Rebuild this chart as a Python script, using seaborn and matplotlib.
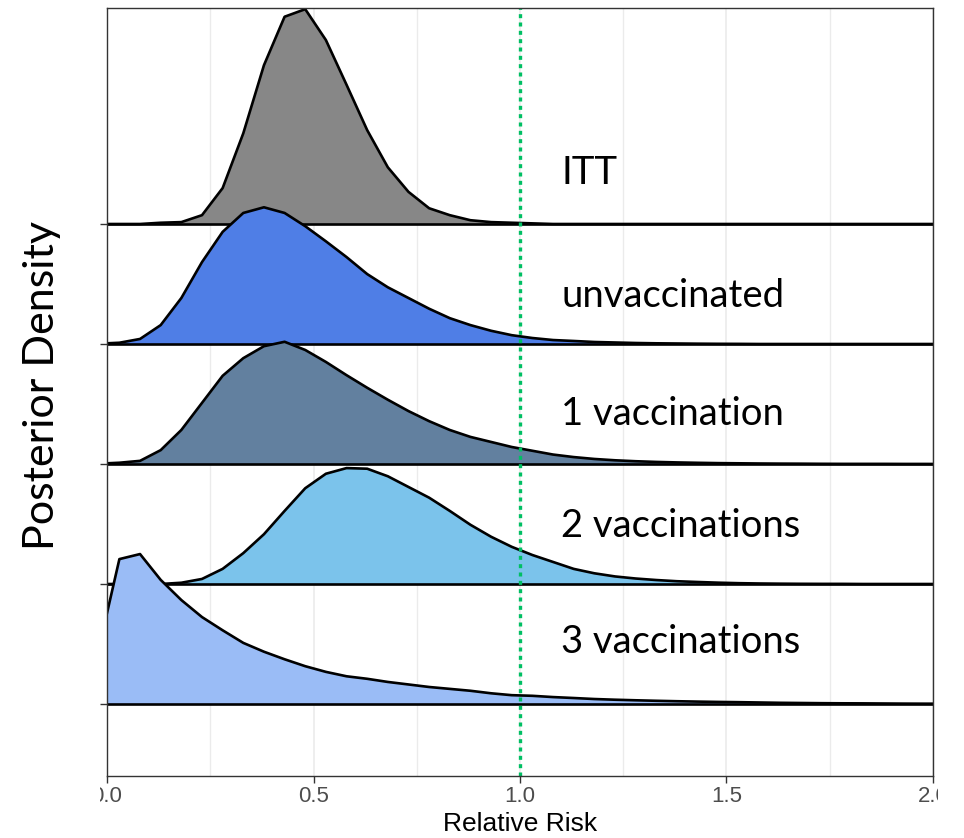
import numpy as np
import pandas as pd
import matplotlib
matplotlib.use("Agg")
import matplotlib.pyplot as plt
import seaborn as sns
from matplotlib.transforms import Bbox

# Posterior density of the relative risk, evaluated on a 0.05 grid
rr_grid = [-0.02, 0.03, 0.08, 0.13, 0.18, 0.23, 0.28, 0.33, 0.38, 0.43,
           0.48, 0.53, 0.58, 0.63, 0.68, 0.73, 0.78, 0.83, 0.88, 0.93,
           0.98, 1.03, 1.08, 1.13, 1.18, 1.23, 1.28, 1.33, 1.38, 1.43,
           1.48, 1.53, 1.58, 1.63, 1.68, 1.73, 1.78, 1.83, 1.88, 1.93,
           1.98, 2.03]

dens_itt = [0.0, 0.0, 0.0, 0.02, 0.03, 0.14, 0.57, 1.44, 2.52, 3.29,
            3.41, 2.92, 2.21, 1.49, 0.90, 0.51, 0.25, 0.14, 0.06, 0.03,
            0.02, 0.01, 0.0, 0.0, 0.0, 0.0, 0.0, 0.0, 0.0, 0.0,
            0.0, 0.0, 0.0, 0.0, 0.0, 0.0, 0.0, 0.0, 0.0, 0.0,
            0.0, 0.0]

dens_unvacc = [0.005, 0.02, 0.08, 0.30, 0.73, 1.30, 1.78, 2.08, 2.17, 2.08,
               1.87, 1.63, 1.38, 1.11, 0.90, 0.73, 0.56, 0.41, 0.30, 0.21,
               0.14, 0.095, 0.063, 0.048, 0.032, 0.024, 0.016, 0.011, 0.008, 0.005,
               0.003, 0.002, 0.0, 0.0, 0.0, 0.0, 0.0, 0.0, 0.0, 0.0,
               0.0, 0.0]

dens_1vacc = [0.005, 0.02, 0.05, 0.22, 0.54, 0.97, 1.40, 1.68, 1.87, 1.94,
              1.81, 1.62, 1.41, 1.21, 1.02, 0.84, 0.68, 0.54, 0.43, 0.35,
              0.27, 0.21, 0.15, 0.11, 0.08, 0.059, 0.044, 0.033, 0.025, 0.019,
              0.014, 0.011, 0.008, 0.006, 0.005, 0.003, 0.002, 0.002, 0.002, 0.001,
              0.001, 0.0]

dens_2vacc = [0.0, 0.0, 0.0, 0.0, 0.02, 0.08, 0.24, 0.49, 0.79, 1.16,
              1.52, 1.75, 1.84, 1.83, 1.71, 1.54, 1.37, 1.16, 0.94, 0.75,
              0.59, 0.46, 0.35, 0.24, 0.17, 0.12, 0.087, 0.063, 0.044, 0.032,
              0.021, 0.013, 0.008, 0.005, 0.003, 0.002, 0.002, 0.0, 0.0, 0.0,
              0.0, 0.0]

dens_3vacc = [0.87, 2.30, 2.38, 1.97, 1.65, 1.38, 1.17, 0.97, 0.83, 0.71,
              0.60, 0.51, 0.44, 0.40, 0.35, 0.31, 0.27, 0.24, 0.21, 0.17,
              0.14, 0.13, 0.11, 0.095, 0.079, 0.068, 0.059, 0.051, 0.044, 0.038,
              0.033, 0.029, 0.024, 0.019, 0.016, 0.013, 0.011, 0.010, 0.008, 0.006,
              0.005, 0.005]

groups = ["ITT", "unvaccinated", "1 vaccination", "2 vaccinations", "3 vaccinations"]
densities = [dens_itt, dens_unvacc, dens_1vacc, dens_2vacc, dens_3vacc]

x_ticks = [0.0, 0.5, 1.0, 1.5, 2.0]
x_tick_labels = ["0.0", "0.5", "1.0", "1.5", "2.0"]
reference_rr = 1.0

# styling
fills = ["#878787", "#4F7EE6", "#62809F", "#7BC3EB", "#9ABCF6"]
row_base = [4, 3, 2, 1, 0]            # ridge baselines, top to bottom
label_y = [4.333, 3.305, 2.325, 1.39, 0.425]
ridge_scale = 0.525                   # ridge height per unit density

long = pd.concat(
    [pd.DataFrame({"group": g, "rr": rr_grid, "density": d, "base": b})
     for g, d, b in zip(groups, densities, row_base)],
    ignore_index=True)
long["ridge"] = long["base"] + long["density"] * ridge_scale

sns.set_theme(style="white")
plt.rcParams["font.family"] = ["Liberation Sans", "DejaVu Sans"]

fig = plt.figure(figsize=(9.64, 8.38), dpi=100)
ax = fig.add_axes([107 / 964, 1 - 776 / 838, (933 - 107) / 964, (776 - 8) / 838])

z = 2
for g, col in zip(groups, fills):
    sub = long[long["group"] == g]
    b = sub["base"].iloc[0]
    ax.fill_between(sub["rr"], b, sub["ridge"], color=col, lw=0, zorder=z)
    ax.plot([-0.05, 2.05], [b, b], color="black", lw=1.9, zorder=z + 0.1,
            solid_capstyle="butt")
    sns.lineplot(data=sub, x="rr", y="ridge", color="black", lw=1.9,
                 estimator=None, sort=False, ax=ax, zorder=z + 0.2)
    z += 1

ax.axvline(reference_rr, color="#00BF63", lw=2.4, ls=(0, (1.2, 1.3)), zorder=30)

for g, ly in zip(groups, label_y):
    ax.text(1.10, ly, g, fontsize=27.5, family=["Lato", "DejaVu Sans"],
            ha="left", va="baseline", color="black", zorder=40)

ax.set_xlim(0, 2)
ax.set_ylim(-0.6, 5.8)
ax.set_xticks(x_ticks)
ax.set_xticklabels(x_tick_labels)
ax.set_xticks([0.25, 0.75, 1.25, 1.75], minor=True)
ax.set_yticks(row_base)
ax.set_yticklabels([])
ax.set_axisbelow(True)
ax.grid(True, which="major", axis="x", color="#EBEBEB", lw=1.2)
ax.grid(True, which="minor", axis="x", color="#EBEBEB", lw=1.0)
ax.grid(False, axis="y")
ax.tick_params(axis="x", which="major", length=5, width=1.0, color="#333333",
               labelsize=16, labelcolor="#4D4D4D", pad=2, bottom=True)
ax.tick_params(axis="x", which="minor", length=0)
ax.tick_params(axis="y", which="major", length=5, width=1.0, color="#333333", left=True)
ax.set_xlabel("Relative Risk", fontsize=19, color="black", labelpad=4)
ax.set_ylabel("")
for sp in ax.spines.values():
    sp.set_visible(True)
    sp.set_color("#333333")
    sp.set_linewidth(1.0)
    sp.set_zorder(35)

# tick labels are cut at the edges of the plotting strip
strip = Bbox.from_extents(100, 0, 938, 838)
for lab in ax.get_xticklabels():
    lab.set_clip_box(strip)
    lab.set_clip_on(True)

fig.text(42 / 964, 1 - 386 / 838, "Posterior Density", rotation=90, fontsize=31,
         family=["Lato", "DejaVu Sans"], ha="center", va="center", color="black")

fig.savefig("out.png", dpi=100)
